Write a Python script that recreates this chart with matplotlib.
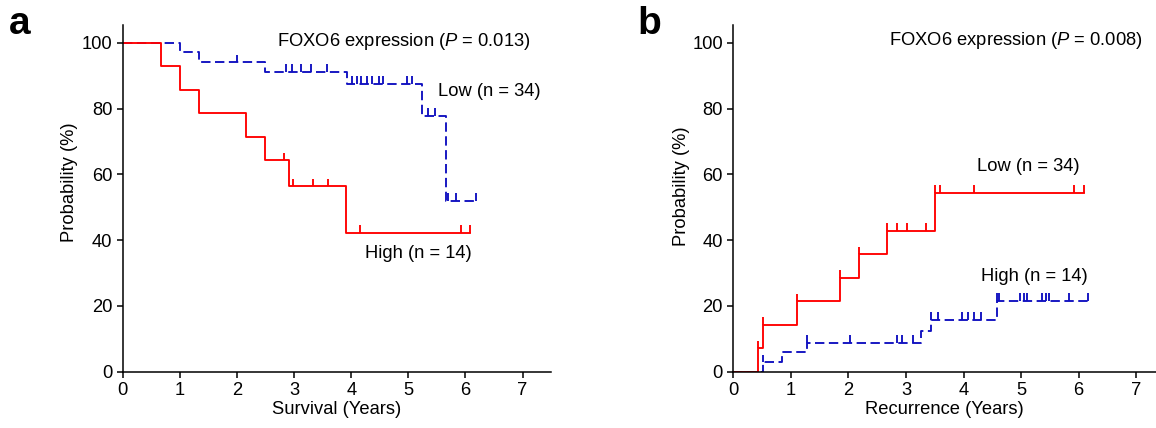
import numpy as np
import matplotlib
matplotlib.use("Agg")
import matplotlib.pyplot as plt
from matplotlib import font_manager as fm

names = {f.name for f in fm.fontManager.ttflist}
NARROW = 'Liberation Sans Narrow' if 'Liberation Sans Narrow' in names else 'Liberation Sans'
plt.rcParams['font.family'] = [NARROW, 'Liberation Sans', 'DejaVu Sans']
plt.rcParams['mathtext.fontset'] = 'custom'
plt.rcParams['mathtext.rm'] = NARROW
plt.rcParams['mathtext.it'] = NARROW + ':italic'

# ---------------- data ----------------
# Panel a: overall survival
a_high_t = [0, 0.665, 1.0, 1.335, 2.16, 2.50, 2.92, 3.91]
a_high_s = [100, 92.9, 85.7, 78.6, 71.4, 64.3, 56.3, 42.2]
a_high_end = 6.08
a_high_cens = [2.83, 2.99, 3.34, 3.59, 4.16, 5.92, 6.08]

a_low_t = [0, 1.0, 1.335, 2.49, 3.92, 5.24, 5.66]
a_low_s = [100, 97.1, 94.1, 91.1, 87.6, 77.8, 52.0]
a_low_end = 6.18
a_low_cens = [1.995, 2.86, 2.96, 3.13, 3.30, 3.58, 4.01, 4.10, 4.18, 4.27,
              4.36, 4.48, 4.56, 4.97, 5.06, 5.35, 5.47, 5.70, 5.84, 6.18]

# Panel b: recurrence
b_red_t = [0, 0.436, 0.51, 1.11, 1.847, 2.18, 2.67, 3.51]
b_red_s = [0, 7.1, 14.3, 21.4, 28.6, 35.7, 42.9, 54.3]
b_red_end = 6.09
b_red_cens = [0.436, 0.51, 1.11, 1.847, 2.18, 2.67, 2.85, 3.01, 3.35, 3.51,
              3.60, 4.18, 5.92, 6.09]

b_blue_t = [0, 0.51, 0.843, 1.28, 3.26, 3.43, 4.59]
b_blue_s = [0, 2.9, 5.9, 8.8, 12.3, 15.7, 21.5]
b_blue_end = 6.16
b_blue_cens = [0.51, 1.28, 2.02, 2.85, 2.94, 3.12, 3.43, 3.55, 3.98, 4.08,
               4.19, 4.31, 4.59, 4.62, 4.99, 5.05, 5.11, 5.37, 5.43, 5.49,
               5.84, 6.16]

x_ticks = [0, 1, 2, 3, 4, 5, 6, 7]
y_ticks = [0, 20, 40, 60, 80, 100]

RED = '#FF0000'
BLUE = '#1010C0'
LW = 1.35
FS = 13.2


def draw_curve(ax, t, s, end, cens, color, dashed):
    tt = list(t) + [end]
    ss = list(s) + [s[-1]]
    kw = dict(color=color, lw=LW, where='post')
    if dashed:
        line, = ax.step(tt, ss, **kw)
        line.set_dashes((5, 2.4))
    else:
        ax.step(tt, ss, **kw)
    idx = np.searchsorted(np.array(t), np.array(cens), side='right') - 1
    yv = np.array(s)[idx]
    ax.vlines(cens, yv, yv + 2.3, color=color, lw=LW)


def style_axes(ax, xmax, xlabel):
    ax.set_xlim(0, xmax)
    ax.set_ylim(0, 105.5)
    ax.set_xticks(x_ticks)
    ax.set_yticks(y_ticks)
    for sp in ('top', 'right'):
        ax.spines[sp].set_visible(False)
    for sp in ('left', 'bottom'):
        ax.spines[sp].set_linewidth(1.1)
    ax.tick_params(direction='out', length=4.5, width=1.1, labelsize=FS, pad=3)
    ax.set_xlabel(xlabel, fontsize=FS, labelpad=1)
    ax.set_ylabel('Probability (%)', fontsize=FS)


fig = plt.figure(figsize=(11.56, 4.28), dpi=100)
ax1 = fig.add_axes([0.1061, 0.1315, 0.3707, 0.811])
ax2 = fig.add_axes([0.6343, 0.1315, 0.3660, 0.811])

draw_curve(ax1, a_low_t, a_low_s, a_low_end, a_low_cens, BLUE, True)
draw_curve(ax1, a_high_t, a_high_s, a_high_end, a_high_cens, RED, False)
style_axes(ax1, 7.5, 'Survival (Years)')
ax1.yaxis.set_label_coords(-0.104, 0.545)
ax1.text(2.70, 100.3, 'FOXO6 expression ($\\it{P}$ = 0.013)', fontsize=FS, va='center', ha='left')
ax1.text(5.52, 85.1, 'Low (n = 34)', fontsize=FS, va='center', ha='left')
ax1.text(4.24, 36.0, 'High (n = 14)', fontsize=FS, va='center', ha='left')

draw_curve(ax2, b_blue_t, b_blue_s, b_blue_end, b_blue_cens, BLUE, True)
draw_curve(ax2, b_red_t, b_red_s, b_red_end, b_red_cens, RED, False)
style_axes(ax2, 7.35, 'Recurrence (Years)')
ax2.yaxis.set_label_coords(-0.102, 0.535)
ax2.text(2.70, 100.6, 'FOXO6 expression ($\\it{P}$ = 0.008)', fontsize=FS, va='center', ha='left')
ax2.text(4.24, 62.3, 'Low (n = 34)', fontsize=FS, va='center', ha='left')
ax2.text(4.30, 28.9, 'High (n = 14)', fontsize=FS, va='center', ha='left')

fig.text(0.008, 0.945, 'a', fontsize=28, fontweight='bold', family=['Liberation Sans', 'DejaVu Sans'], va='center')
fig.text(0.551, 0.945, 'b', fontsize=28, fontweight='bold', family=['Liberation Sans', 'DejaVu Sans'], va='center')

fig.savefig('out.png', dpi=100)
